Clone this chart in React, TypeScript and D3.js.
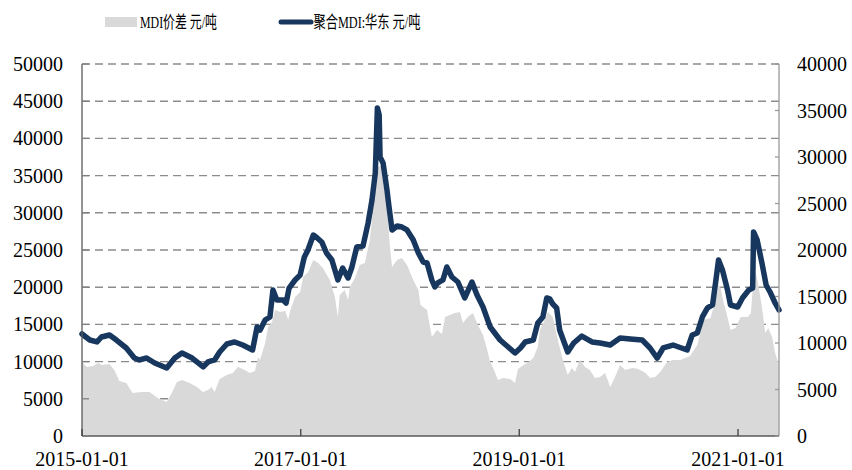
import React, { useLayoutEffect, useRef, useState } from 'react';
import * as d3 from 'd3';

const lineDates = [
  '2015-01-01','2015-01-27','2015-02-20','2015-03-07','2015-04-03','2015-04-26','2015-05-29','2015-06-25','2015-07-12','2015-08-05',
  '2015-09-01','2015-10-11','2015-11-07','2015-12-01','2016-01-04','2016-02-10','2016-02-26','2016-03-19','2016-04-05','2016-04-29',
  '2016-05-25','2016-06-21','2016-07-24','2016-08-08','2016-08-18','2016-09-04','2016-09-20','2016-09-30','2016-10-13','2016-11-03',
  '2016-11-13','2016-11-23','2016-12-13','2016-12-30','2017-01-13','2017-01-25','2017-02-12','2017-02-25','2017-03-12','2017-03-28',
  '2017-04-15','2017-05-05','2017-05-21','2017-06-08','2017-06-21','2017-07-07','2017-07-28','2017-08-14','2017-08-27','2017-09-07',
  '2017-09-14','2017-09-20','2017-09-23','2017-10-03','2017-10-16','2017-10-23','2017-11-02','2017-11-19','2017-12-05','2017-12-22',
  '2018-01-12','2018-01-29','2018-02-14','2018-02-27','2018-03-15','2018-03-25','2018-04-04','2018-04-21','2018-05-04','2018-05-21',
  '2018-06-10','2018-07-03','2018-07-27','2018-08-13','2018-09-02','2018-09-26','2018-10-29','2018-11-25','2018-12-18','2019-01-05',
  '2019-01-21','2019-02-17','2019-03-04','2019-03-21','2019-04-03','2019-04-13','2019-04-23','2019-05-06','2019-05-16','2019-06-12',
  '2019-07-02','2019-07-29','2019-09-01','2019-09-28','2019-11-01','2019-12-04','2020-01-07','2020-02-16','2020-03-13','2020-04-06',
  '2020-04-26','2020-05-29','2020-07-15','2020-08-01','2020-08-18','2020-09-04','2020-09-21','2020-10-08','2020-10-18','2020-10-28',
  '2020-11-10','2020-11-27','2020-12-07','2020-12-31','2021-01-16','2021-02-06','2021-02-19','2021-02-22','2021-03-06','2021-03-22',
  '2021-04-05','2021-04-18','2021-05-05','2021-05-18'
];
const lineValues = [
  13710,12900,12640,13310,13580,12900,11830,10480,10220,10480,
  9810,9140,10480,11160,10480,9280,9950,10220,11290,12370,
  12640,12230,11560,14650,14250,15590,16000,19620,18280,18280,
  17880,19890,20970,21640,24060,25000,27020,26610,26080,24600,
  23660,20970,22580,21240,22720,25400,25540,28630,31720,35350,
  44090,43150,37500,36700,33070,30780,27690,28230,28090,27690,
  26350,24600,23390,23250,20970,20030,20570,20970,22720,21370,
  20700,18550,20700,18950,17340,14650,12900,11960,11160,11830,
  12640,12900,15190,16000,18550,18420,17740,17210,14250,11290,
  12500,13440,12640,12500,12230,13170,13040,12900,11830,10480,
  11830,12230,11560,13580,13850,16000,17210,17610,20570,23660,
  22310,19620,17610,17340,18550,19620,19890,27420,26350,23250,
  20300,19360,17880,16940
];

const spreadDates = [
  '2015-01-01','2015-01-17','2015-02-07','2015-02-23','2015-03-10','2015-04-03','2015-04-19','2015-05-06','2015-05-29','2015-06-19',
  '2015-07-18','2015-08-15','2015-09-11','2015-10-11','2015-10-28','2015-11-14','2015-12-01','2015-12-27','2016-01-20','2016-02-09',
  '2016-02-26','2016-03-09','2016-03-19','2016-04-05','2016-04-29','2016-05-19','2016-06-05','2016-06-28','2016-07-15','2016-08-01',
  '2016-08-11','2016-08-18','2016-09-04','2016-09-14','2016-09-27','2016-10-07','2016-10-24','2016-11-10','2016-11-20','2016-11-27',
  '2016-12-13','2016-12-30','2017-01-09','2017-01-26','2017-02-12','2017-02-28','2017-03-16','2017-04-08','2017-04-25','2017-05-05',
  '2017-05-11','2017-05-28','2017-06-08','2017-06-14','2017-07-01','2017-07-17','2017-08-03','2017-08-20','2017-08-31','2017-09-10',
  '2017-09-17','2017-09-30','2017-10-03','2017-10-16','2017-10-20','2017-10-26','2017-11-02','2017-11-19','2017-12-05','2017-12-22',
  '2018-01-12','2018-01-29','2018-02-05','2018-02-27','2018-03-15','2018-04-01','2018-04-18','2018-04-28','2018-05-14','2018-05-31',
  '2018-06-17','2018-06-27','2018-07-13','2018-07-30','2018-08-16','2018-09-02','2018-09-16','2018-09-26','2018-10-06','2018-10-22',
  '2018-11-08','2018-12-02','2018-12-18','2018-12-28','2019-01-15','2019-01-28','2019-02-17','2019-03-04','2019-03-11','2019-03-27',
  '2019-04-07','2019-04-23','2019-05-10','2019-05-27','2019-06-12','2019-06-26','2019-07-06','2019-07-23','2019-08-09','2019-08-25',
  '2019-09-11','2019-09-28','2019-10-15','2019-11-01','2019-11-17','2019-12-04','2019-12-21','2020-01-14','2020-02-03','2020-02-27',
  '2020-03-13','2020-03-30','2020-04-16','2020-05-09','2020-05-29','2020-06-22','2020-07-25','2020-08-18','2020-09-08','2020-10-01',
  '2020-10-18','2020-10-28','2020-11-04','2020-11-14','2020-11-21','2020-12-07','2020-12-24','2021-01-10','2021-02-03','2021-02-13',
  '2021-02-19','2021-03-01','2021-03-10','2021-03-22','2021-04-02','2021-04-12','2021-04-25','2021-05-05','2021-05-15','2021-05-18'
];
const spreadValues = [
  7960,7420,7530,7850,7630,7740,7100,5910,5700,4620,
  4730,4730,4090,3660,4620,5810,6020,5700,5270,4730,
  4950,5270,4730,6130,6560,6770,7420,7100,6770,6990,
  8490,8170,10000,11720,12260,13550,13330,13440,12470,13550,
  14950,15480,17100,17630,18930,18600,18070,16770,14950,12800,
  15160,15700,14620,16020,16990,18390,18600,21080,24620,27530,
  28930,29140,27210,24840,22900,20320,18170,18930,19140,18390,
  16770,15700,14090,13550,10650,11400,10970,12800,13010,13230,
  13330,12150,12800,13230,11940,10860,9250,7960,7310,6020,
  6240,6130,5700,7200,7630,7850,8390,9570,11400,12470,
  13330,12800,10320,8170,6560,7310,6880,8170,7420,7100,
  6240,6340,6770,5270,6340,7630,7100,7310,7200,6770,
  6240,6340,6880,7960,8170,8170,8600,9790,12470,12690,
  14620,16240,15910,14300,13550,11400,11610,12800,12800,13230,
  15700,17630,16240,13870,11080,11610,10650,8930,7960,7630
];

const leftTicks = [0, 5000, 10000, 15000, 20000, 25000, 30000, 35000, 40000, 45000, 50000];
const rightTicks = [0, 5000, 10000, 15000, 20000, 25000, 30000, 35000, 40000];
const xTickLabels = ['2015-01-01', '2017-01-01', '2019-01-01', '2021-01-01'];
const legendLabels = ['MDI价差 元/吨', '聚合MDI:华东 元/吨'];
const xStart = '2015-01-01';
const xEnd = '2021-05-18';

export default function App() {
  const W = 852, H = 470;
  const x0 = 82, x1 = 779, yTop = 64, yBot = 436;
  const parse = d3.timeParse('%Y-%m-%d');
  const x = d3.scaleTime().domain([parse(xStart)!, parse(xEnd)!]).range([x0, x1]);
  const yL = d3.scaleLinear().domain([0, 50000]).range([yBot, yTop]);
  const yR = d3.scaleLinear().domain([0, 40000]).range([yBot, yTop]);

  const spread = spreadDates.map((d, i) => ({ d: parse(d)!, v: spreadValues[i] }));
  const price = lineDates.map((d, i) => ({ d: parse(d)!, v: lineValues[i] }));

  const areaGen = d3.area<{ d: Date; v: number }>()
    .x(p => x(p.d)).y0(yBot).y1(p => yR(p.v));
  const lineGen = d3.line<{ d: Date; v: number }>()
    .x(p => x(p.d)).y(p => yL(p.v));

  const font = '"Liberation Serif", "Times New Roman", "DejaVu Serif", "Noto Sans CJK SC", serif';
  const tStyle = { fontFamily: font };
  const grid = '#8c8c8c';
  const navy = '#17375E';

  const leg1 = useRef<SVGTextElement>(null);
  const leg2 = useRef<SVGTextElement>(null);
  const [sc, setSc] = useState<[number, number]>([1, 1]);
  useLayoutEffect(() => {
    const w1 = leg1.current ? leg1.current.getComputedTextLength() : 77;
    const w2 = leg2.current ? leg2.current.getComputedTextLength() : 107;
    setSc([77 / (w1 || 77), 107 / (w2 || 107)]);
  }, []);

  return (
    <svg width={W} height={H} style={{ position: 'absolute', left: 0, top: 0, background: '#fff' }}>
      <rect x={0} y={0} width={W} height={H} fill="#fff" />
      {leftTicks.filter(t => t > 0).map(t => (
        <line key={'g' + t} x1={x0} x2={x1} y1={yL(t)} y2={yL(t)}
          stroke={grid} strokeWidth={1.4} strokeDasharray="8,5" />
      ))}
      <path d={areaGen(spread) || ''} fill="#D9D9D9" />
      <path d={lineGen(price) || ''} fill="none" stroke={navy} strokeWidth={5.5}
        strokeLinejoin="round" strokeLinecap="round" />
      <line x1={x0} x2={x0} y1={yTop} y2={yBot} stroke="#595959" strokeWidth={1.3} />
      <line x1={x1} x2={x1} y1={yTop} y2={yBot} stroke="#9a9a9a" strokeWidth={1.3} />
      <line x1={x0} x2={x1} y1={yBot} y2={yBot} stroke="#595959" strokeWidth={1.5} />
      {leftTicks.map(t => (
        <g key={'l' + t}>
          <line x1={x0} x2={x0 + 7} y1={yL(t)} y2={yL(t)} stroke="#808080" strokeWidth={1.3} />
          <text x={63} y={yL(t) + 7} textAnchor="end" fontSize={20} fill="#000" style={tStyle}>{t}</text>
        </g>
      ))}
      {rightTicks.map(t => (
        <g key={'r' + t}>
          <line x1={x1 - 4} x2={x1} y1={yR(t)} y2={yR(t)} stroke="#9a9a9a" strokeWidth={1.3} />
          <text x={797} y={yR(t) + 7} textAnchor="start" fontSize={20} fill="#000" style={tStyle}>{t}</text>
        </g>
      ))}
      {xTickLabels.map(s => {
        const xx = x(parse(s)!);
        return (
          <g key={s}>
            <line x1={xx} x2={xx} y1={yBot} y2={yBot - 7} stroke="#404040" strokeWidth={1.3} />
            <text x={xx} y={466} textAnchor="middle" fontSize={20} fill="#000" style={tStyle}>{s}</text>
          </g>
        );
      })}
      <rect x={105} y={17} width={32} height={10} fill="#D9D9D9" />
      <text ref={leg1} transform={`translate(140,28) scale(${sc[0]},1)`} x={0} y={0} fontSize={17}
        fill="#000" style={tStyle}>{legendLabels[0]}</text>
      <line x1={281} x2={311} y1={22} y2={22} stroke={navy} strokeWidth={5} strokeLinecap="round" />
      <text ref={leg2} transform={`translate(313.5,28) scale(${sc[1]},1)`} x={0} y={0} fontSize={17}
        fill="#000" style={tStyle}>{legendLabels[1]}</text>
    </svg>
  );
}
